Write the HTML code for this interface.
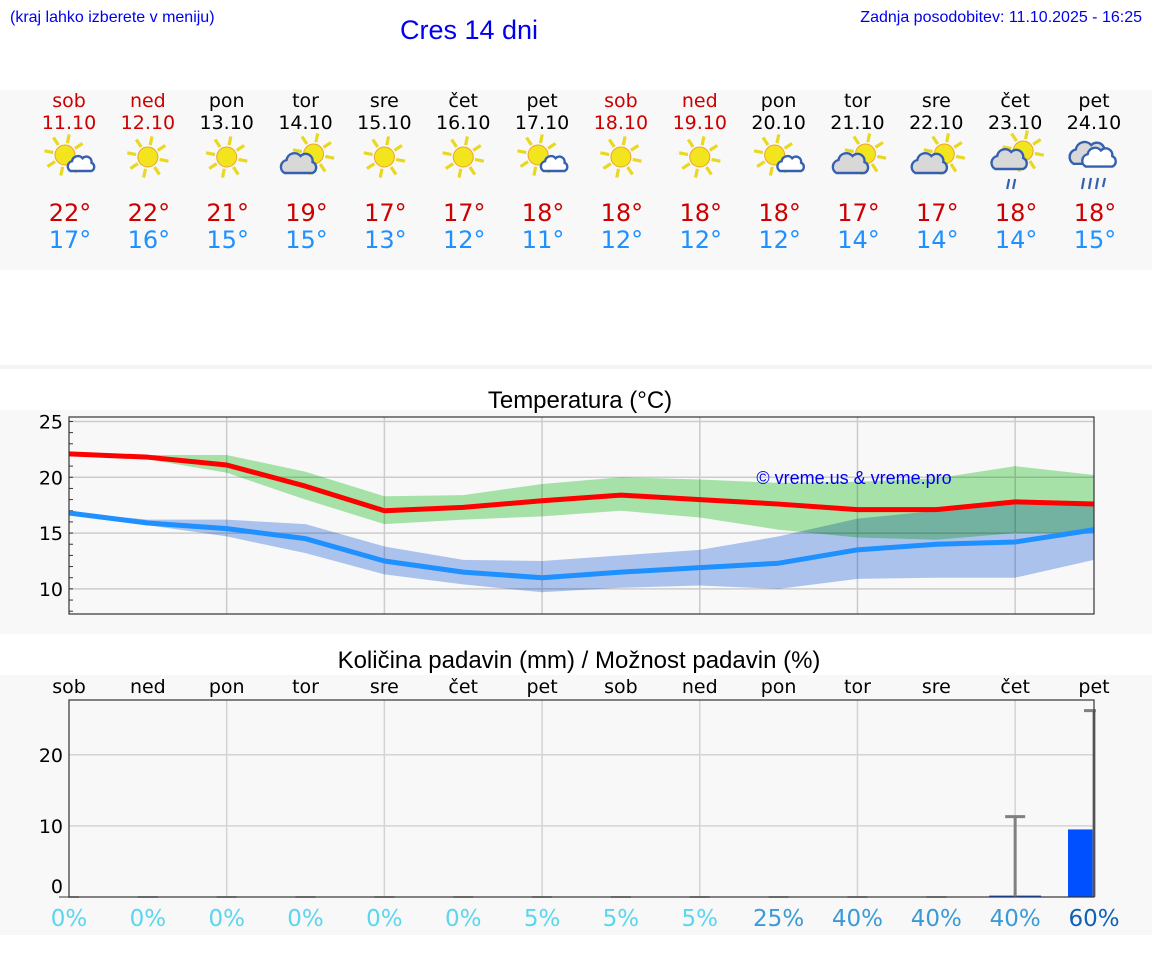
<!DOCTYPE html>
<html><head><meta charset="utf-8"><style>
body{margin:0;background:#fff;width:1152px;height:975px;overflow:hidden}
svg{display:block}
</style></head><body>
<svg id="s" width="1152" height="975" xmlns="http://www.w3.org/2000/svg">
<rect x="0" y="90" width="1152" height="180" fill="#f8f8f8"/>
<rect x="0" y="365" width="1152" height="4" fill="#f4f4f4"/>
<rect x="0" y="410" width="1152" height="224" fill="#f8f8f8"/>
<rect x="0" y="675" width="1152" height="260" fill="#f8f8f8"/>
<text x="10" y="22" font-family="Liberation Sans, sans-serif" font-size="16" fill="#0000ee">(kraj lahko izberete v meniju)</text>
<text x="469" y="39" text-anchor="middle" font-family="Liberation Sans, sans-serif" font-size="27" fill="#0000ee">Cres 14 dni</text>
<text x="1142" y="22" text-anchor="end" font-family="Liberation Sans, sans-serif" font-size="16" fill="#0000ee">Zadnja posodobitev: 11.10.2025 - 16:25</text>
<text x="580" y="408" text-anchor="middle" font-family="Liberation Sans, sans-serif" font-size="24" fill="#000">Temperatura (°C)</text>
<text x="579" y="668" text-anchor="middle" font-family="Liberation Sans, sans-serif" font-size="24" fill="#000">Količina padavin (mm) / Možnost padavin (%)</text>
<g id="hdr"></g><g id="tc"></g><g id="pc"></g>
</svg>
<script>
const days=["sob","ned","pon","tor","sre","čet","pet","sob","ned","pon","tor","sre","čet","pet"];
const dates=["11.10","12.10","13.10","14.10","15.10","16.10","17.10","18.10","19.10","20.10","21.10","22.10","23.10","24.10"];
const weekend=[1,1,0,0,0,0,0,1,1,0,0,0,0,0];
const icons=["sc","s","s","cs","s","s","sc","s","s","sc","cs","cs","csr","cr"];
const hiT=[22,22,21,19,17,17,18,18,18,18,17,17,18,18];
const loT=[17,16,15,15,13,12,11,12,12,12,14,14,14,15];
const maxLine=[22.1,21.8,21.1,19.2,17.0,17.3,17.9,18.4,18.0,17.6,17.1,17.1,17.8,17.6];
const maxUp=[22.2,22.0,22.0,20.5,18.3,18.4,19.4,20.0,19.8,19.5,19.6,19.9,21.0,20.2];
const maxLo=[22.0,21.6,20.4,18.0,15.8,16.2,16.5,17.0,16.4,15.3,14.6,14.4,15.0,15.0];
const minLine=[16.8,15.9,15.4,14.5,12.5,11.5,11.0,11.5,11.9,12.3,13.5,14.0,14.2,15.3];
const minUp=[16.9,16.2,16.2,15.8,13.8,12.6,12.5,13.0,13.5,14.7,16.3,17.0,17.6,17.6];
const minLo=[16.6,15.7,14.7,13.2,11.3,10.4,9.7,10.1,10.3,10.0,10.9,11.0,11.0,12.6];
const tempTicks=[10,15,20,25];
const precip=[0,0,0,0,0,0,0,0,0,0,0,0,0.2,9.5];
const precipMax=[0,0,0,0,0,0,0,0,0,0,0,0,11.3,26.2];
const chance=[0,0,0,0,0,0,5,5,5,25,40,40,40,60];
const precipTicks=[0,10,20];

const NS="http://www.w3.org/2000/svg";
function mk(p,t,a,txt){const e=document.createElementNS(NS,t);for(const k in a)e.setAttribute(k,a[k]);if(txt!==undefined)e.textContent=txt;p.appendChild(e);return e;}
const X0=69,X1=1094,dx=(X1-X0)/13;
const xd=i=>X0+i*dx;
const DJ="DejaVu Sans, Liberation Sans, sans-serif";

const hdr=document.getElementById('hdr');
function sun(g,cx,cy,r){
  for(let k=0;k<8;k++){const a=k*Math.PI/4+0.2;mk(g,'line',{x1:cx+Math.cos(a)*(r+2),y1:cy+Math.sin(a)*(r+2),x2:cx+Math.cos(a)*(r+11),y2:cy+Math.sin(a)*(r+11),stroke:'#e8d820','stroke-width':3.2});}
  mk(g,'circle',{cx:cx,cy:cy,r:r,fill:'#f2e51e',stroke:'#f0a030','stroke-width':1});
}
function cloud(g,cx,cy,s,fill){
  mk(g,'path',{d:`M${cx-14*s},${cy+8*s} a${7*s},${7*s} 0 0 1 ${2*s},${-13*s} a${8*s},${8*s} 0 0 1 ${14*s},${-4*s} a${7*s},${7*s} 0 0 1 ${12*s},${6*s} a${6*s},${6*s} 0 0 1 ${0},${11*s} z`,fill:fill,stroke:'#3560b0','stroke-width':2.4});
}
for(let i=0;i<14;i++){
  const x=xd(i),col=weekend[i]?'#cc0000':'#000';
  const g=mk(hdr,'g',{});
  
  
  mk(g,'text',{x:x,y:107,'text-anchor':'middle','font-family':DJ,'font-size':19,fill:col},days[i]);
  mk(g,'text',{x:x,y:129,'text-anchor':'middle','font-family':DJ,'font-size':19,fill:col},dates[i]);
  const ic=mk(g,'g',{});
  
  
  const t=icons[i],cy=157;
  if(t==='s'){sun(ic,x,cy,10);}
  else if(t==='sc'){sun(ic,x-4,cy-2,10);cloud(ic,x+12,cy+8,0.75,'#fff');}
  else if(t==='cs'){sun(ic,x+8,cy-3,10);cloud(ic,x-7,cy+8,1.0,'#d8d8d8');}
  else if(t==='csr'){sun(ic,x+8,cy-6,10);cloud(ic,x-6,cy+4,1.0,'#d8d8d8');mk(ic,'path',{d:`M${x-6},${cy+22} l-2,10 M${x},${cy+22} l-2,10`,stroke:'#3560b0','stroke-width':2.2});}
  else {cloud(ic,x-5,cy-2,1.1,'#d8d8d8');cloud(ic,x+5,cy+2,0.95,'#fff');mk(ic,'path',{d:`M${x-10},${cy+21} l-2,11 M${x-3},${cy+21} l-2,11 M${x+4},${cy+21} l-2,11 M${x+11},${cy+21} l-2,9`,stroke:'#3560b0','stroke-width':2.2});}
  mk(g,'text',{x:x+1,y:221,'text-anchor':'middle','font-family':DJ,'font-size':24,fill:'#cc0000'},hiT[i]+'°');
  mk(g,'text',{x:x+1,y:248,'text-anchor':'middle','font-family':DJ,'font-size':24,fill:'#2090ff'},loT[i]+'°');
}

const tc=document.getElementById('tc');
const TY0=417,TY1=614,tmin=7.75,tmax=25.4;
const yt=v=>TY1-(v-tmin)/(tmax-tmin)*(TY1-TY0);
mk(tc,'rect',{x:X0,y:TY0,width:X1-X0,height:TY1-TY0,fill:'#f8f8f8'});
tempTicks.forEach(v=>{
  const l=mk(tc,'line',{x1:X0,x2:X1,y1:yt(v),y2:yt(v),stroke:'#ccc','stroke-width':1.5});
  
  
  const t=mk(tc,'text',{x:63,y:yt(v)+7,'text-anchor':'end','font-family':DJ,'font-size':19,fill:'#000'},v);
  
  
});
for(let v=8;v<=25;v++)mk(tc,'line',{x1:X0,x2:X0+4,y1:yt(v),y2:yt(v),stroke:'#333','stroke-width':1});
for(let i=2;i<14;i+=2)mk(tc,'line',{x1:xd(i),x2:xd(i),y1:TY0,y2:TY1,stroke:'#ccc','stroke-width':1.5});
function band(up,lo,fill,name){
  let d='M'+up.map((v,i)=>xd(i)+','+yt(v)).join(' L')+' L'+lo.map((v,i)=>xd(i)+','+yt(v)).reverse().join(' L')+'Z';
  const p=mk(tc,'path',{d:d,fill:fill,style:'mix-blend-mode:multiply'});
  
  
}
band(maxUp,maxLo,'#abe9ad','max-temp-range');
band(minUp,minLo,'#b0c9f3','min-temp-range');
function line(arr,col,name){
  const p=mk(tc,'polyline',{points:arr.map((v,i)=>xd(i)+','+yt(v)).join(' '),fill:'none',stroke:col,'stroke-width':5,'stroke-linejoin':'round'});
  
  
}
line(maxLine,'#ff0000','max-temp-line');
line(minLine,'#1e90ff','min-temp-line');
mk(tc,'rect',{x:X0,y:TY0,width:X1-X0,height:TY1-TY0,fill:'none',stroke:'#333','stroke-width':1.2});
const wm=mk(tc,'text',{x:854,y:484,'text-anchor':'middle','font-family':'Liberation Sans, sans-serif','font-size':18,fill:'#0000ee'},'© vreme.us & vreme.pro');



const pc=document.getElementById('pc');
const PY0=700,PY1=897,pmax=27.7;
const yp=v=>PY1-v/pmax*(PY1-PY0);
mk(pc,'rect',{x:X0,y:PY0,width:X1-X0,height:PY1-PY0,fill:'#f8f8f8'});
precipTicks.forEach(v=>{
  if(v>0)mk(pc,'line',{x1:X0,x2:X1,y1:yp(v),y2:yp(v),stroke:'#d4d4d4','stroke-width':1.5});
  const t=mk(pc,'text',{x:63,y:(v===0?yp(v)-4:yp(v)+7),'text-anchor':'end','font-family':DJ,'font-size':19,fill:'#000'},v);
  
  
});
for(let i=2;i<14;i+=2)mk(pc,'line',{x1:xd(i),x2:xd(i),y1:PY0,y2:PY1,stroke:'#d4d4d4','stroke-width':1.5});
const bw=52;
for(let i=0;i<14;i++){
  const x=xd(i);
  const dl=mk(pc,'text',{x:x,y:693,'text-anchor':'middle','font-family':DJ,'font-size':19,fill:'#000'},days[i]);
  
  
  const bx=Math.max(X0,x-bw/2),bx2=Math.min(X1,x+bw/2);
  if(precip[i]>0){
    const b=mk(pc,'rect',{x:bx,y:yp(precip[i]),width:bx2-bx,height:Math.max(1,PY1-yp(precip[i])),fill:'#0050ff'});
    
    
  } else {
    mk(pc,'line',{x1:x-10,x2:x+10,y1:PY1,y2:PY1,stroke:'#777','stroke-width':1.5});
  }
  if(precipMax[i]>0){
    const e=mk(pc,'path',{d:`M${x},${PY1} V${yp(precipMax[i])} M${x-10},${yp(precipMax[i])} H${Math.min(X1+2,x+10)}`,stroke:'#808080','stroke-width':3,fill:'none'});
    
    
  }
  const c=chance[i],col=c>=60?'#1060b8':c>=25?'#3a9ad8':'#5ad6ee';
  const pt=mk(pc,'text',{x:x,y:926,'text-anchor':'middle','font-family':DJ,'font-size':23,fill:col},c+'%');
  
  
}
mk(pc,'rect',{x:X0,y:PY0,width:X1-X0,height:PY1-PY0,fill:'none',stroke:'#333','stroke-width':1.2});
</script>
</body></html>
